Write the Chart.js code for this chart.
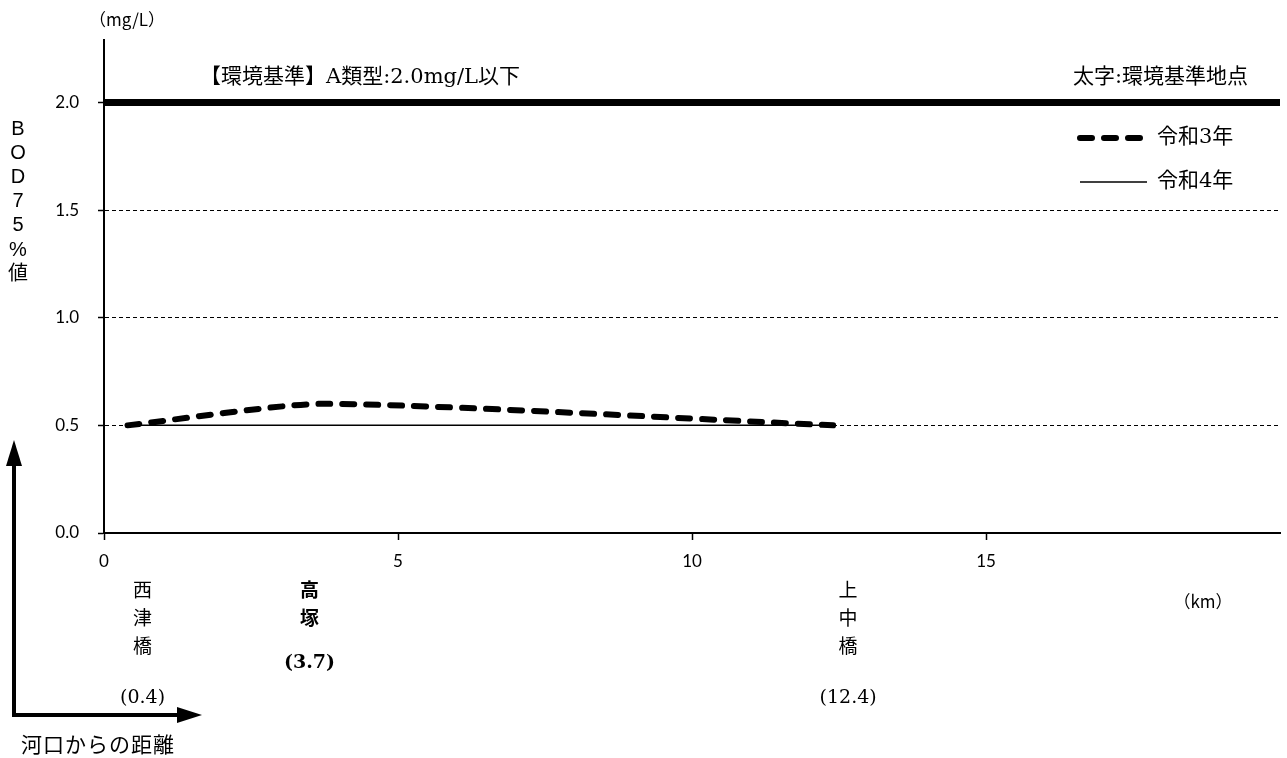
<!DOCTYPE html>
<html>
<head>
<meta charset="utf-8">
<script src="https://cdn.jsdelivr.net/npm/chart.js@4"></script>
<style>
html, body { margin: 0; padding: 0; background: #fff; }
#wrap { width: 1287px; height: 758px; }
</style>
</head>
<body>
<div id="wrap"><canvas id="chart" width="1287" height="758"></canvas></div>
<script>
// Data
const distances = [0.4, 3.7, 12.4];
const stations = ['西津橋', '高塚', '上中橋'];
const boldStations = [false, true, false]; // 太字:環境基準地点
const bodR3 = [0.5, 0.6, 0.5];
const bodR4 = [0.5, 0.5, 0.5];
const standardValue = 2.0;
const xRange = [0, 20];
const xTicks = [0, 5, 10, 15];
const yTicks = [0, 0.5, 1.0, 1.5, 2.0];
const yTitle = ['B', 'O', 'D', '7', '5', '%', '値'];

const SERIF = '"DejaVu Serif", "Noto Sans CJK JP", serif';
const SANS = 'Lato, "Noto Sans CJK JP", sans-serif';
const GOTHIC = '"Liberation Sans", "Noto Sans CJK JP", sans-serif';
const CJK = '"Noto Sans CJK JP", sans-serif';

// station label nudges (label column sits a bit off the point)
const labelNudge = [15, -12, 15];

function pts(values) {
  return distances.map((d, i) => ({ x: d, y: values[i] }));
}

// draws texts, legend and the distance arrow
const decorations = {
  id: 'decorations',
  afterDraw(chart) {
    const ctx = chart.ctx;
    const xs = chart.scales.x;
    ctx.save();
    ctx.fillStyle = '#000';
    ctx.textBaseline = 'middle';

    // units
    ctx.textAlign = 'center';
    ctx.font = '17px ' + CJK;
    ctx.fillText('（mg/L）', 127, 20);
    ctx.fillText('（km）', 1203, 602);

    // vertical y title
    ctx.font = '20px ' + GOTHIC;
    yTitle.forEach((c, i) => ctx.fillText(c, 18, 129 + i * 24.2));

    // standard notes
    ctx.font = '21px ' + SERIF;
    ctx.textAlign = 'left';
    ctx.fillText('【環境基準】A類型:2.0mg/L以下', 200, 78);
    ctx.textAlign = 'right';
    ctx.fillText('太字:環境基準地点', 1248, 78);

    // station labels
    ctx.textAlign = 'center';
    stations.forEach((name, i) => {
      const x = xs.getPixelForValue(distances[i]) + labelNudge[i];
      const bold = boldStations[i];
      ctx.font = (bold ? 'bold ' : '') + '19px ' + (bold ? GOTHIC : SERIF);
      const chars = Array.from(name);
      chars.forEach((c, j) => ctx.fillText(c, x, 592 + j * 28));
      ctx.font = (bold ? 'bold ' : '') + '19px ' + SERIF;
      const py = 592 + (chars.length - 1) * 28 + (bold ? 43 : 50);
      ctx.fillText('(' + distances[i].toFixed(1) + ')', x, py);
    });

    // legend
    ctx.textAlign = 'left';
    ctx.font = '21px ' + SERIF;
    [chart.data.datasets[1], chart.data.datasets[2]].forEach((ds, i) => {
      const y = 138 + i * 44;
      ctx.save();
      ctx.strokeStyle = ds.borderColor;
      ctx.lineWidth = ds.borderWidth;
      ctx.lineCap = ds.borderCapStyle || 'butt';
      ctx.setLineDash(ds.borderDash || []);
      ctx.beginPath();
      ctx.moveTo(1080, y);
      ctx.lineTo(ds.borderDash ? 1142 : 1147, y);
      ctx.stroke();
      ctx.restore();
      ctx.fillText(ds.label, 1157, y);
    });

    // 河口からの距離 arrow
    ctx.lineWidth = 4;
    ctx.strokeStyle = '#000';
    ctx.beginPath();
    ctx.moveTo(14, 462);
    ctx.lineTo(14, 715);
    ctx.lineTo(180, 715);
    ctx.stroke();
    ctx.beginPath();
    ctx.moveTo(14, 440);
    ctx.lineTo(6, 466);
    ctx.lineTo(22, 466);
    ctx.closePath();
    ctx.fill();
    ctx.beginPath();
    ctx.moveTo(202, 715);
    ctx.lineTo(177, 707);
    ctx.lineTo(177, 723);
    ctx.closePath();
    ctx.fill();

    ctx.font = '21px ' + SERIF;
    ctx.letterSpacing = '1px';
    ctx.textAlign = 'left';
    ctx.fillText('河口からの距離', 21, 747);
    ctx.restore();
  }
};

const chart = new Chart(document.getElementById('chart'), {
  type: 'line',
  data: {
    datasets: [
      {
        label: '環境基準',
        data: [{ x: xRange[0], y: standardValue }, { x: xRange[1], y: standardValue }],
        borderColor: '#000',
        borderWidth: 7,
        pointRadius: 0,
        clip: false,
      },
      {
        label: '令和3年',
        data: pts(bodR3),
        borderColor: '#000',
        borderWidth: 6,
        borderDash: [12, 12],
        borderCapStyle: 'round',
        tension: 0.2,
        pointRadius: 0,
      },
      {
        label: '令和4年',
        data: pts(bodR4),
        borderColor: '#000',
        borderWidth: 1.5,
        pointRadius: 0,
      },
    ],
  },
  options: {
    responsive: false,
    animation: false,
    devicePixelRatio: 1,
    layout: { padding: { top: 40, right: 7, left: 0, bottom: 0 } },
    plugins: {
      legend: { display: false },
      tooltip: { enabled: false },
    },
    scales: {
      x: {
        type: 'linear',
        min: xRange[0],
        max: xRange[1],
        afterBuildTicks: (s) => { s.ticks = xTicks.map((v) => ({ value: v })); },
        afterFit: (s) => { s.height = 225; },
        ticks: {
          color: '#000',
          font: { family: SANS, size: 17 },
          padding: 11,
          maxRotation: 0,
        },
        grid: {
          drawOnChartArea: false,
          tickLength: 7,
          tickColor: '#000',
          tickWidth: 1.5,
        },
        border: { color: '#000', width: 2 },
      },
      y: {
        min: 0,
        max: 2.29,
        afterBuildTicks: (s) => { s.ticks = yTicks.map((v) => ({ value: v })); },
        afterFit: (s) => { s.width = 104; },
        ticks: {
          color: '#000',
          font: { family: SANS, size: 17 },
          padding: 19,
          callback: (v) => Number(v).toFixed(1),
        },
        grid: {
          color: (c) => (c.tick && c.tick.value > 0 && c.tick.value < standardValue ? '#000' : 'rgba(0,0,0,0)'),
          lineWidth: 1,
          tickLength: 6,
          tickColor: '#000',
          tickWidth: 1.5,
          tickBorderDash: [],
        },
        border: { color: '#000', width: 2, dash: [4, 3] },
      },
    },
  },
  plugins: [decorations],
});
</script>
</body>
</html>
